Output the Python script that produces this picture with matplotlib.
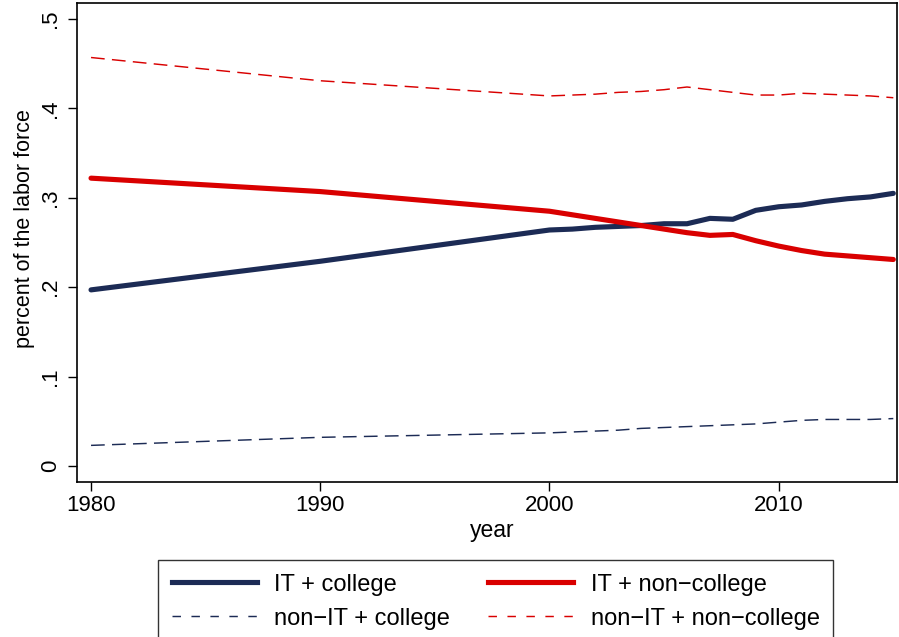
import numpy as np
import matplotlib
matplotlib.use("Agg")
import matplotlib.pyplot as plt
from matplotlib.lines import Line2D

plt.rcParams["font.family"] = ["Liberation Sans", "DejaVu Sans"]

years = [1980, 1990, 2000, 2001, 2002, 2003, 2004, 2005, 2006, 2007,
         2008, 2009, 2010, 2011, 2012, 2013, 2014, 2015]
it_college = [0.197, 0.229, 0.264, 0.265, 0.267, 0.268, 0.269, 0.271, 0.271, 0.277,
              0.276, 0.286, 0.290, 0.292, 0.296, 0.299, 0.301, 0.305]
it_noncollege = [0.322, 0.307, 0.285, 0.281, 0.277, 0.273, 0.269, 0.265, 0.261, 0.258,
                 0.259, 0.252, 0.246, 0.241, 0.237, 0.235, 0.233, 0.231]
nonit_college = [0.023, 0.032, 0.037, 0.038, 0.039, 0.040, 0.042, 0.043, 0.044, 0.045,
                 0.046, 0.047, 0.049, 0.051, 0.052, 0.052, 0.052, 0.053]
nonit_noncollege = [0.457, 0.431, 0.414, 0.415, 0.416, 0.418, 0.419, 0.421, 0.424, 0.421,
                    0.418, 0.415, 0.415, 0.417, 0.416, 0.415, 0.414, 0.412]

labels = ["IT + college", "IT + non\u2212college",
          "non\u2212IT + college", "non\u2212IT + non\u2212college"]
yticks = [0, 0.1, 0.2, 0.3, 0.4, 0.5]
ytick_labels = ["0", ".1", ".2", ".3", ".4", ".5"]
xticks = [1980, 1990, 2000, 2010]

navy = "#1c2b55"
red = "#d90000"

fig = plt.figure(figsize=(8.99, 6.37), dpi=100)
ax = fig.add_axes([0.0857, 0.2433, 0.9123, 0.752])

ax.plot(years, it_college, color=navy, lw=3.7, solid_capstyle="round")
ax.plot(years, it_noncollege, color=red, lw=3.7, solid_capstyle="round")
ax.plot(years, nonit_college, color=navy, lw=1.05, dashes=(9.4, 5))
ax.plot(years, nonit_noncollege, color=red, lw=1.05, dashes=(9.4, 5))

ax.set_xlim(1979.39, 2015.17)
ax.set_ylim(-0.018, 0.518)
ax.set_yticks(yticks)
ax.set_yticklabels(ytick_labels, rotation=90, va="center")
ax.set_xticks(xticks)
ax.tick_params(axis="both", direction="out", length=6.5, width=1, labelsize=16, pad=3)
ax.tick_params(axis="y", pad=5)
for s in ax.spines.values():
    s.set_linewidth(1.2)

ax.set_xlabel("year", fontsize=16.5, labelpad=4)
ax.set_ylabel("percent of the labor force", fontsize=15.5)
ax.yaxis.set_label_coords(-0.051, 0.530)
ax.xaxis.set_label_coords(0.506, -0.078)

# legend handles drawn with shorter dashes, like the original key
handles = [Line2D([], [], color=navy, lw=3.7),
           Line2D([], [], color=navy, lw=1.05, dashes=(5.8, 7.2)),
           Line2D([], [], color=red, lw=3.7),
           Line2D([], [], color=red, lw=1.05, dashes=(5.8, 7.2))]
order = [labels[0], labels[2], labels[1], labels[3]]
leg = fig.legend(handles, order,
                 loc="upper left", bbox_to_anchor=(158 / 899, 1 - 560 / 637), ncol=2,
                 fontsize=17, handlelength=3.6, columnspacing=1.6,
                 frameon=True, fancybox=False, edgecolor="black",
                 borderpad=0.58, labelspacing=0.51, handletextpad=0.75,
                 borderaxespad=0)
leg.get_frame().set_linewidth(1.0)

fig.savefig("out.png", dpi=100)
